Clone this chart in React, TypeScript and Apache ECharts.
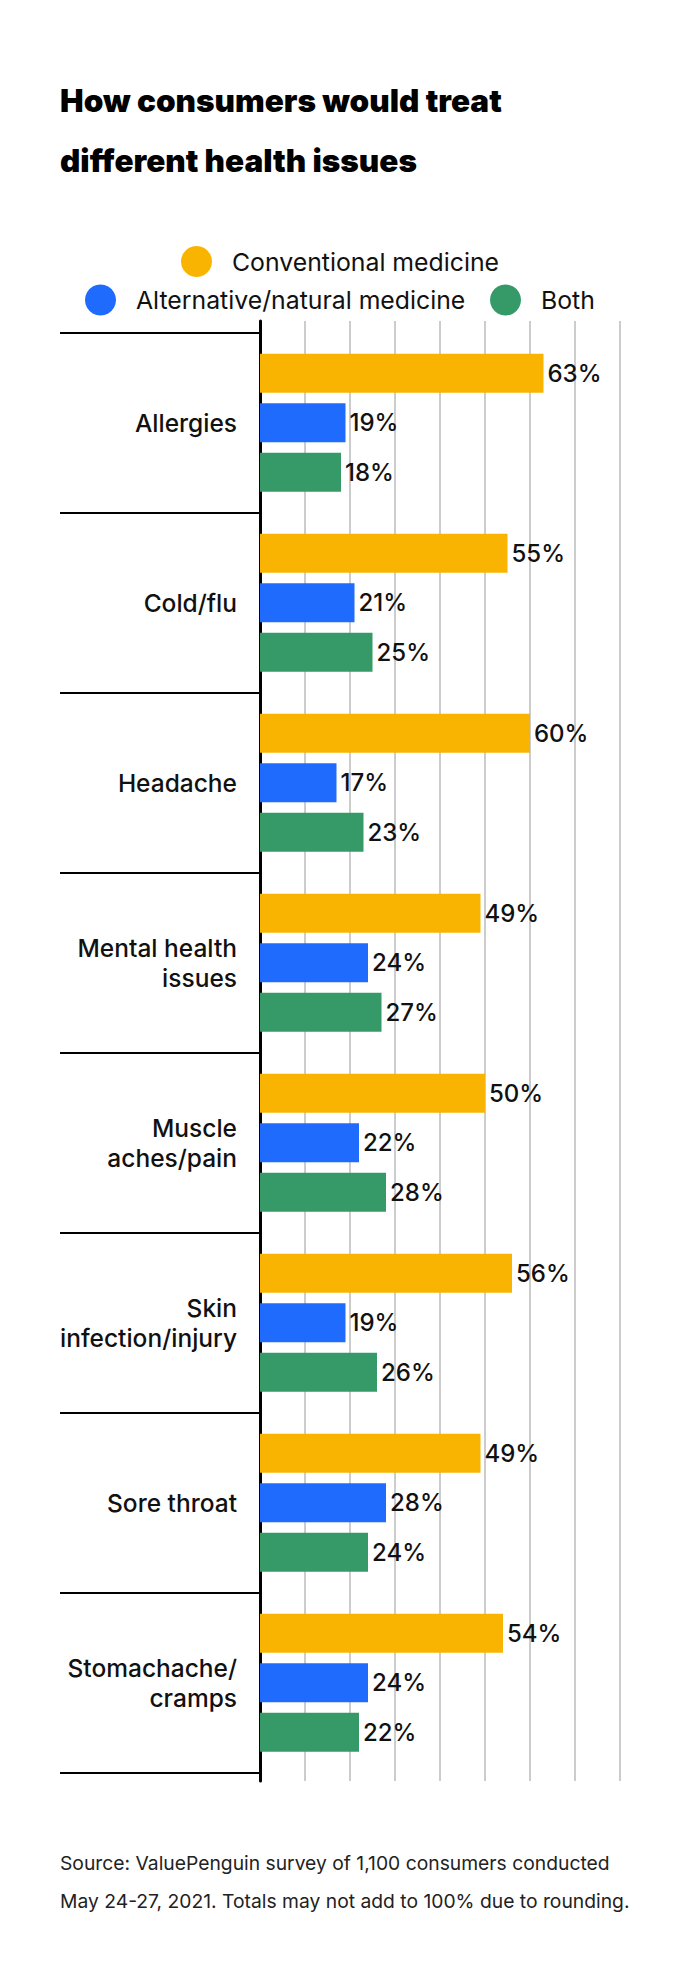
import React, { useEffect, useRef } from "react";
import * as echarts from "echarts";

const categories = [
  "Allergies",
  "Cold/flu",
  "Headache",
  "Mental health\nissues",
  "Muscle\naches/pain",
  "Skin\ninfection/injury",
  "Sore throat",
  "Stomachache/\ncramps",
];
const conventional = [63, 55, 60, 49, 50, 56, 49, 54];
const alternative = [19, 21, 17, 24, 22, 19, 28, 24];
const both = [18, 25, 23, 27, 28, 26, 24, 22];
const seriesNames = ["Conventional medicine", "Alternative/natural medicine", "Both"];
const colors = ["#F8B400", "#1F6BFE", "#359A68"];

const FONT = "Inter, Roboto, sans-serif";

export default function App() {
  const ref = useRef<HTMLDivElement>(null);
  useEffect(() => {
    document.body.style.margin = "0";
    const chart = echarts.init(ref.current!, null, { renderer: "svg" });
    const seriesData = [conventional, alternative, both];
    const legendPos = [
      { left: 181, top: 246 },
      { left: 85, top: 284.5 },
      { left: 490, top: 284.5 },
    ];
    chart.setOption({
      animation: false,
      backgroundColor: "#ffffff",
      title: [
        {
          text: "How consumers would treat\ndifferent health issues",
          left: 60,
          top: 70,
          padding: 0,
          textStyle: {
            fontFamily: FONT,
            fontSize: 31.5,
            fontWeight: 900,
            lineHeight: 60,
            color: "#000",
          },
        },
        {
          text: "Source: ValuePenguin survey of 1,100 consumers conducted\nMay 24-27, 2021. Totals may not add to 100% due to rounding.",
          left: 60,
          top: 1844,
          padding: 0,
          textStyle: {
            fontFamily: FONT,
            fontSize: 19.3,
            fontWeight: 400,
            lineHeight: 38,
            color: "#222",
          },
        },
      ],
      legend: seriesNames.map((n, i) => ({
        data: [n],
        left: legendPos[i].left,
        top: legendPos[i].top,
        padding: 0,
        icon: "circle",
        itemWidth: 61,
        itemHeight: 31,
        selectedMode: false,
        textStyle: { fontFamily: FONT, fontSize: 24.8, color: "#111" },
      })),
      grid: [
        { left: 260, width: 360, top: 332.7, height: 1440 },
        { left: 260, width: 360, top: 321, height: 1460 },
      ],
      xAxis: [
        {
          type: "value",
          gridIndex: 0,
          min: 0,
          max: 80,
          interval: 10,
          axisLine: { show: false },
          axisTick: { show: false },
          axisLabel: { show: false },
          splitLine: { show: false },
        },
        {
          type: "value",
          gridIndex: 1,
          min: 0,
          max: 80,
          interval: 10,
          axisLine: { show: false },
          axisTick: { show: false },
          axisLabel: { show: false },
          splitLine: { show: true, lineStyle: { color: "#cccccc", width: 2 } },
        },
      ],
      yAxis: [
        {
          type: "category",
          gridIndex: 0,
          inverse: true,
          data: categories,
          axisLine: { show: false },
          axisTick: {
            show: true,
            length: 200,
            interval: 0,
            lineStyle: { color: "#000", width: 2 },
          },
          axisLabel: {
            margin: 23,
            interval: 0,
            fontFamily: FONT,
            fontSize: 24.5,
            fontWeight: 500,
            lineHeight: 30,
            color: "#111",
            align: "right",
          },
          splitLine: { show: false },
        },
        {
          type: "value",
          gridIndex: 1,
          offset: 1.5,
          axisLine: { show: true, lineStyle: { color: "#000", width: 3 } },
          axisTick: { show: false },
          axisLabel: { show: false },
          splitLine: { show: false },
        },
      ],
      series: seriesNames.map((n, i) => ({
        name: n,
        type: "bar",
        xAxisIndex: 0,
        yAxisIndex: 0,
        data: seriesData[i],
        barWidth: 39,
        barGap: "27%",
        itemStyle: { color: colors[i] },
        label: {
          show: true,
          position: "right",
          distance: 4,
          formatter: "{c}%",
          fontFamily: FONT,
          fontSize: 24,
          fontWeight: 500,
          color: "#111",
        },
      })),
    });
    return () => chart.dispose();
  }, []);
  return <div ref={ref} style={{ width: 700, height: 1980 }} />;
}
